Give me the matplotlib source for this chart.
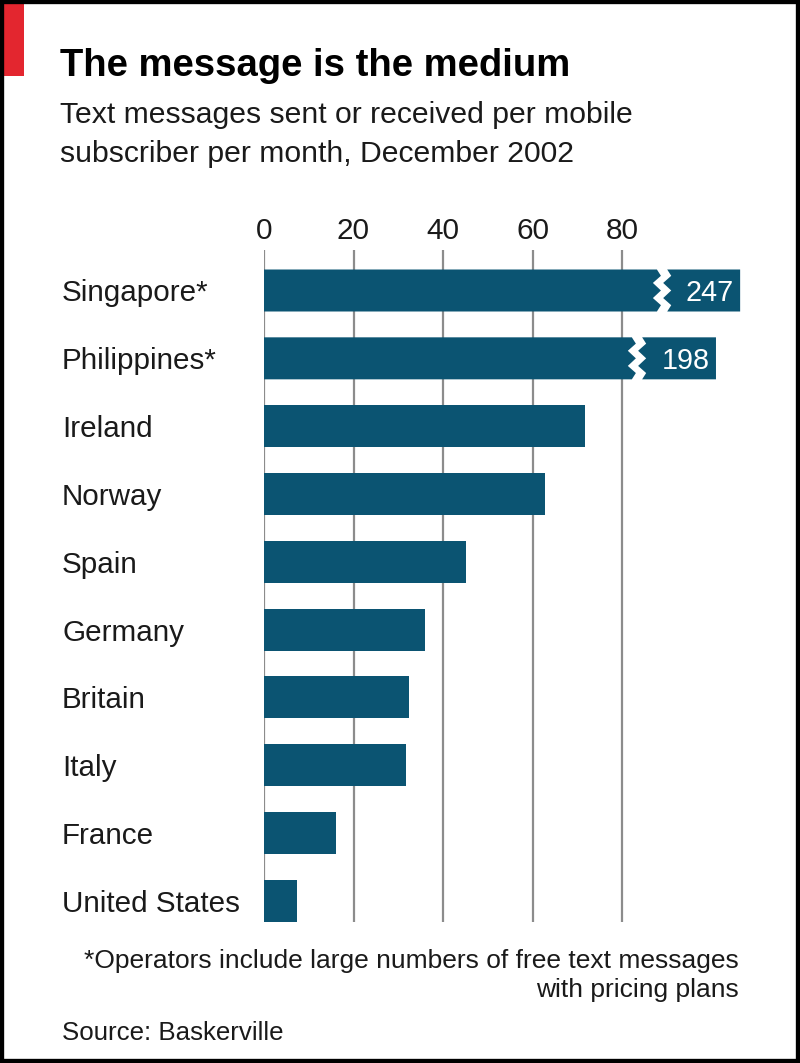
"""Text messages per mobile subscriber, December 2002 (Economist style)."""

import matplotlib
matplotlib.use("Agg")
import matplotlib.pyplot as plt
from matplotlib.patches import Polygon, Rectangle
from matplotlib.transforms import blended_transform_factory

countries = ["Singapore*", "Philippines*", "Ireland", "Norway", "Spain",
             "Germany", "Britain", "Italy", "France", "United States"]
messages = [247, 198, 71.7, 62.8, 45.1, 36.0, 32.4, 31.7, 16.1, 7.4]
ticks = [0, 20, 40, 60, 80]

# broken bars: (break position, drawn end) in axis units
BREAKS = {"Singapore*": (87.8, 106.4), "Philippines*": (82.2, 101.0)}

BAR = "#0b5472"
GRID = "#8c8c8c"
RED = "#e3262f"
FONT = ["Liberation Sans", "DejaVu Sans"]

plt.rcParams["font.family"] = FONT

W, H = 800, 1063
fig = plt.figure(figsize=(W / 100, H / 100), dpi=100)
fig.patch.set_facecolor("white")


def fx(px):
    return px / W


def fy(py):
    return 1 - py / H


ax = fig.add_axes([fx(264), fy(922), fx(750) - fx(264), fy(250) - fy(922)])
px_per_unit = (622 - 264) / 80
ax.set_xlim(0, (750 - 264) / px_per_unit)
spacing = (901 - 290.5) / 9
ax.set_ylim((922 - 290.5) / spacing, -(290.5 - 250) / spacing)
bar_h = 42 / spacing

ax.set_xticks(ticks)
ax.xaxis.tick_top()
ax.tick_params(axis="x", length=0, pad=3.5, labelsize=21.4, colors="#1a1a1a")
ax.set_yticks([])
for s in ax.spines.values():
    s.set_visible(False)
ax.grid(axis="x", color=GRID, lw=1.6)
ax.set_axisbelow(True)

zig_y = [0, 0.15, 0.32, 0.5, 0.68, 0.85, 1.0]
zig_x = [0, 1, -1, 1, -1, 1, 0]
amp = 0.9
gap = 2.3

label_tr = blended_transform_factory(fig.transFigure, ax.transData)

for i, (name, val) in enumerate(zip(countries, messages)):
    top, bot = i - bar_h / 2, i + bar_h / 2
    if name in BREAKS:
        brk, end = BREAKS[name]
        edge = [(brk + amp * dx, top + (bot - top) * fy_) for dx, fy_ in zip(zig_x, zig_y)]
        left = [(0, top)] + edge + [(0, bot)]
        right = [(x + gap, y) for x, y in edge] + [(end, bot), (end, top)]
        ax.add_patch(Polygon(left, closed=True, fc=BAR, ec="none", zorder=3))
        ax.add_patch(Polygon(right, closed=True, fc=BAR, ec="none", zorder=3))
        ax.annotate(f"{val:g}", (end, i), xytext=(-6, 0), textcoords="offset pixels",
                    ha="right", va="center_baseline", color="white", fontsize=20.7,
                    zorder=4)
    else:
        ax.barh(i, val, height=bar_h, color=BAR, zorder=3)
    ax.text(fx(62), i, name, transform=label_tr, ha="left", va="center_baseline",
            fontsize=21.3, color="#1a1a1a")

# title block
fig.text(fx(60), fy(76), "The message is the medium", fontsize=27.5,
         fontweight="bold", color="black", va="baseline")
fig.text(fx(60), fy(123), "Text messages sent or received per mobile",
         fontsize=21.7, color="#1a1a1a", va="baseline")
fig.text(fx(60), fy(162), "subscriber per month, December 2002",
         fontsize=21.7, color="#1a1a1a", va="baseline")

# footnote and source
fig.text(fx(739), fy(968), "*Operators include large numbers of free text messages",
         fontsize=19, color="#1a1a1a", ha="right", va="baseline")
fig.text(fx(739), fy(997), "with pricing plans",
         fontsize=19, color="#1a1a1a", ha="right", va="baseline")
fig.text(fx(62), fy(1040), "Source: Baskerville",
         fontsize=18.6, color="#1a1a1a", ha="left", va="baseline")

# red tag and frame
fig.add_artist(Rectangle((0, fy(76)), fx(24), 1 - fy(76), transform=fig.transFigure,
                         fc=RED, ec="none"))
fig.add_artist(Rectangle((0, 0), 1, 1, transform=fig.transFigure, fill=False,
                         ec="black", lw=6))

fig.savefig("out.png", dpi=100)
